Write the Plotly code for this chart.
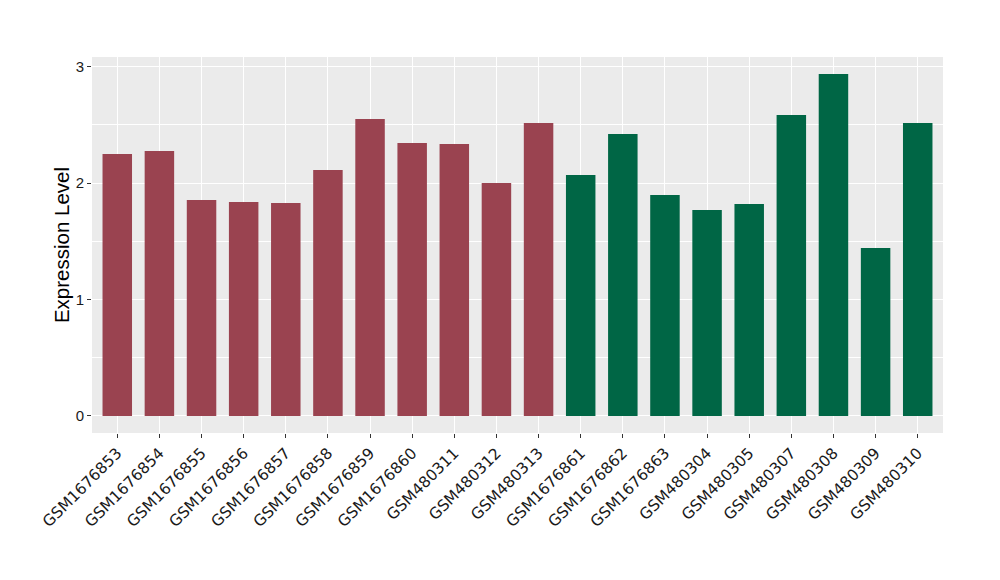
import plotly.graph_objects as go

samples = ["GSM1676853", "GSM1676854", "GSM1676855", "GSM1676856", "GSM1676857",
           "GSM1676858", "GSM1676859", "GSM1676860", "GSM480311", "GSM480312",
           "GSM480313", "GSM1676861", "GSM1676862", "GSM1676863", "GSM480304",
           "GSM480305", "GSM480307", "GSM480308", "GSM480309", "GSM480310"]
values = [2.251, 2.277, 1.856, 1.838, 1.830, 2.113, 2.552, 2.345, 2.336, 2.001,
          2.517, 2.070, 2.422, 1.898, 1.769, 1.821, 2.585, 2.937, 1.443, 2.516]
groups = ["A"] * 11 + ["B"] * 9
group_colors = {"A": "#9A4350", "B": "#006645"}
y_ticks = [0, 1, 2, 3]

colors = [group_colors[g] for g in groups]

fig = go.Figure(go.Bar(x=samples, y=values, marker=dict(color=colors, line=dict(width=0)),
                       width=0.7, showlegend=False))

fig.update_layout(
    width=1000, height=580,
    margin=dict(l=84, r=65, t=49, b=155),
    paper_bgcolor="white",
    plot_bgcolor="#EBEBEB",
    font=dict(family="DejaVu Sans", color="#222222"),
)
fig.update_xaxes(
    type="category",
    range=[-0.6, 19.6],
    tickangle=-45,
    tickfont=dict(family="DejaVu Sans", size=15.5, color="#1a1a1a"),
    showgrid=True, gridcolor="white", gridwidth=1.1,
    ticks="outside", ticklen=4, tickcolor="#333333", tickwidth=1,
    showline=False, zeroline=False,
)
fig.update_yaxes(
    range=[-0.147, 3.084],
    tickvals=y_ticks,
    ticktext=[str(t) for t in y_ticks],
    tickfont=dict(family="Liberation Sans", size=15, color="#1a1a1a"),
    showgrid=True, gridcolor="white", gridwidth=1.1,
    minor=dict(dtick=0.5, tick0=0, showgrid=True, gridcolor="white", gridwidth=0.5, ticks=""),
    ticks="outside", ticklen=4, tickcolor="#333333", tickwidth=1,
    zeroline=False, showline=False,
    title=dict(text="Expression Level", font=dict(family="Liberation Sans", size=20.5, color="black"), standoff=0),
)

fig.write_html("out.html")
